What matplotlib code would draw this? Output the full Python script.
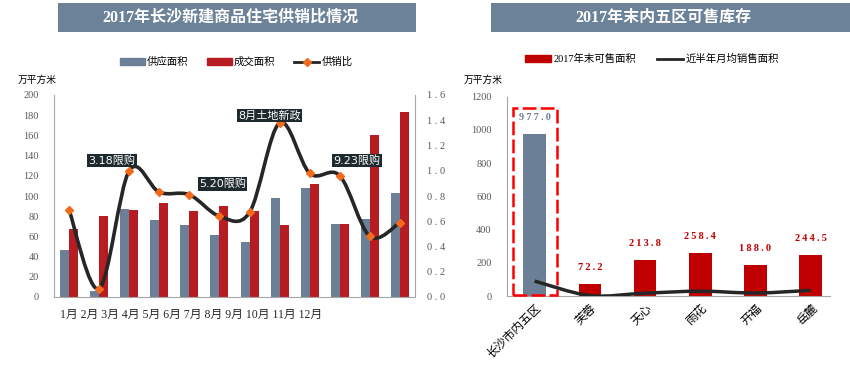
import numpy as np
import matplotlib
matplotlib.use("Agg")
import matplotlib.pyplot as plt
from matplotlib.path import Path
from matplotlib.patches import PathPatch, Rectangle, Patch
from matplotlib.lines import Line2D

plt.rcParams["font.family"] = ["Liberation Serif", "Noto Sans CJK SC"]

# ---- left chart data ----
months = ["1月", "2月", "3月", "4月", "5月", "6月", "7月", "8月", "9月", "10月", "11月", "12月"]
supply = [47, 5.5, 87, 76, 71.5, 61, 54.5, 98, 108, 72, 77.5, 102.5]
deal = [67.5, 80, 86.5, 93, 85, 90.5, 85.5, 71, 111.5, 72.5, 160, 183.5]
ratio = [0.69, 0.066, 1.0, 0.83, 0.81, 0.64, 0.67, 1.38, 0.98, 0.96, 0.48, 0.59]
policy_notes = ["3.18限购", "5.20限购", "8月土地新政", "9.23限购"]
policy_x = [1.43, 5.1, 6.66, 9.57]
policy_y = [135, 112, 180, 135]

# ---- right chart data ----
districts = ["长沙市内五区", "芙蓉", "天心", "雨花", "开福", "岳麓"]
stock = [977.0, 72.2, 213.8, 258.4, 188.0, 244.5]
monthly_sales = [90, 3, 17, 29, 18, 34]

GRAY = "#6B8096"
RED_L = "#B71C22"
RED_R = "#C00000"
LINE = "#262626"
ORANGE = "#F26B1D"
TICK = "#595959"
SPINE = "#A6A6A6"
CJK = ["Noto Sans CJK SC"]


def smooth_path(xs, ys):
    pts = np.column_stack([xs, ys]).astype(float)
    n = len(pts)
    verts = [pts[0]]
    codes = [Path.MOVETO]
    for i in range(n - 1):
        p0 = pts[max(i - 1, 0)]
        p1 = pts[i]
        p2 = pts[i + 1]
        p3 = pts[min(i + 2, n - 1)]
        verts += [p1 + (p2 - p0) / 6, p2 - (p3 - p1) / 6, p2]
        codes += [Path.CURVE4] * 3
    return Path(verts, codes)


def spaced(s, sep=" "):
    return sep.join(s)


fig = plt.figure(figsize=(8.5, 3.68), dpi=100)

# title banners
for x0, x1, title in [(58, 416, "2017年长沙新建商品住宅供销比情况"), (491, 850, "2017年末内五区可售库存")]:
    fig.patches.append(Rectangle((x0 / 850, 1 - 32 / 368), (x1 - x0) / 850, 29 / 368,
                                 transform=fig.transFigure, facecolor="#6C8298", edgecolor="none"))
    fig.text((x0 + x1) / 2 / 850 - 0.008, 1 - 17.5 / 368, title, color="white", fontsize=11.5,
             fontweight="bold", ha="center", va="center")

# ---- left chart ----
ax = fig.add_axes([54 / 850, 71 / 368, 361 / 850, 202 / 368])
x = np.arange(len(months))
ax.bar(x - 0.15, supply, width=0.3, color=GRAY, zorder=2)
ax.bar(x + 0.15, deal, width=0.3, color=RED_L, zorder=2)
ax.set_xlim(-0.5, 11.5)
ax.set_ylim(0, 200)
ax.set_yticks(np.arange(0, 201, 20))
ax.set_xticks([])
ax.tick_params(axis="y", length=0, pad=11, labelsize=7.5, labelcolor=TICK)
for s in ["top", "right"]:
    ax.spines[s].set_visible(False)
for s in ["left", "bottom"]:
    ax.spines[s].set_color(SPINE)

ax2 = ax.twinx()
ax2.set_ylim(0, 1.6)
ticks_r = np.arange(0, 1.61, 0.2)
ax2.set_yticks(ticks_r)
ax2.set_yticklabels([spaced(f"{v:.1f}") for v in ticks_r])
ax2.tick_params(axis="y", length=0, pad=9, labelsize=7.5, labelcolor=TICK)
for s in ["top", "left", "bottom"]:
    ax2.spines[s].set_visible(False)
ax2.spines["right"].set_color(SPINE)
ax2.add_patch(PathPatch(smooth_path(x, ratio), fill=False, edgecolor=LINE, lw=2.6, zorder=3))
ax2.plot(x, ratio, ls="none", marker="D", ms=4.5, color=ORANGE, zorder=4)

for note, nx, ny in zip(policy_notes, policy_x, policy_y):
    ax2.text(nx, ny / 125, note, color="white", fontsize=8, ha="center", va="center",
             family=["DejaVu Sans", "Noto Sans CJK SC"], zorder=6,
             bbox=dict(boxstyle="square,pad=0.12", facecolor="#1E2A2E", edgecolor="none"))

fig.text(60 / 850, 1 - 315 / 368, " ".join(months), fontsize=8.5, ha="left", va="center", color="#262626")
fig.text(37 / 850, 1 - 80 / 368, "万平方米", fontsize=7, ha="center", va="center", family=CJK)

fig.legend(handles=[Patch(color=GRAY), Patch(color=RED_L),
                    Line2D([], [], color=LINE, lw=2, marker="D", ms=4, mfc=ORANGE, mec=ORANGE)],
           labels=["供应面积", "成交面积", "供销比"], ncol=3, loc="center",
           bbox_to_anchor=(236 / 850, 1 - 62 / 368), frameon=False, prop={"family": CJK, "size": 7.5},
           handlelength=2.4, handleheight=0.6, handletextpad=0.2, columnspacing=1.8)

# ---- right chart ----
bx = fig.add_axes([507 / 850, 72 / 368, 323 / 850, 199.3 / 368])
xr = np.arange(len(districts))
bar_colors = [GRAY] + [RED_R] * (len(districts) - 1)
bx.bar(xr, stock, width=0.41, color=bar_colors, zorder=2)
bx.set_xlim(-0.5, 5.35)
bx.set_ylim(0, 1200)
bx.set_yticks(np.arange(0, 1201, 200))
bx.tick_params(axis="y", length=0, pad=11, labelsize=7.5, labelcolor=TICK)
bx.set_xticks(xr)
bx.set_xticklabels(districts, rotation=45, ha="right", va="top", rotation_mode="anchor",
                   family=CJK, fontsize=8.5)
bx.tick_params(axis="x", length=0, pad=4)
for s in ["top", "right"]:
    bx.spines[s].set_visible(False)
for s in ["left", "bottom"]:
    bx.spines[s].set_color(SPINE)

for i, v in enumerate(stock):
    bx.annotate(spaced(f"{v:.1f}", "\u2009"), (i, v), xytext=(0, 12), textcoords="offset points",
                ha="center", va="center", fontsize=7.5, fontweight="bold",
                color=bar_colors[i])

bx.add_patch(Rectangle((-0.4, 8), 0.8, 1125, fill=False, edgecolor="#FF0000", lw=1.8,
                       ls=(0, (5.5, 1.7)), zorder=3, clip_on=False))
bx.add_patch(PathPatch(smooth_path(xr, monthly_sales), fill=False, edgecolor=LINE, lw=2.5, zorder=4))

fig.text(483 / 850, 1 - 80 / 368, "万平方米", fontsize=7, ha="center", va="center", family=CJK)
fig.legend(handles=[Patch(color=RED_R), Line2D([], [], color=LINE, lw=2)],
           labels=["2017年末可售面积", "近半年月均销售面积"], ncol=2, loc="center",
           bbox_to_anchor=(652 / 850, 1 - 59 / 368), frameon=False, prop={"size": 7.5},
           handlelength=2.5, handleheight=0.6, handletextpad=0.2, columnspacing=2.0)

fig.savefig("out.png", dpi=100)
